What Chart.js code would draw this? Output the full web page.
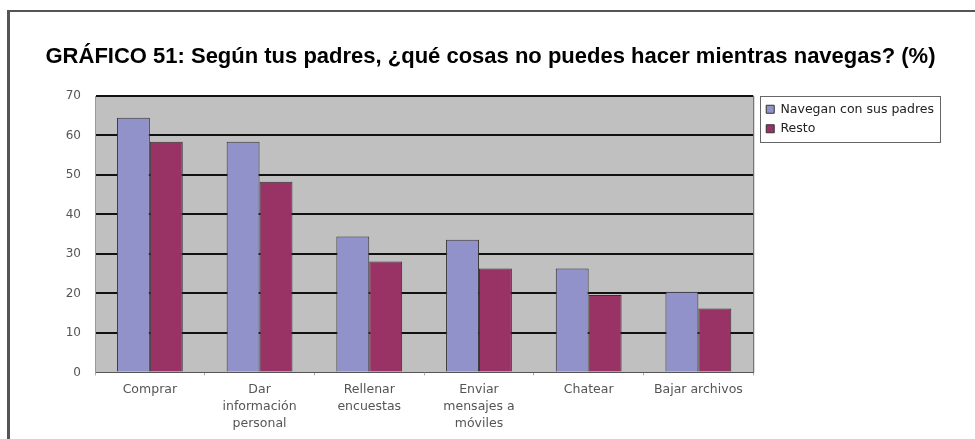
<!DOCTYPE html>
<html>
<head>
<meta charset="utf-8">
<script src="https://cdn.jsdelivr.net/npm/chart.js@4.4.0/dist/chart.umd.min.js"></script>
<style>
  html, body { margin: 0; padding: 0; background: #fff; }
  #wrap { position: relative; width: 975px; height: 439px; overflow: hidden; }
  #frame { position: absolute; left: 7px; top: 10px; width: 980px; height: 440px;
           border-top: 2px solid #555; border-left: 3px solid #555; }
  #chartCanvas { position: absolute; left: 0; top: 0; }
</style>
</head>
<body>
<div id="wrap">
  <div id="frame"></div>
  <canvas id="chartCanvas" width="975" height="439"></canvas>
</div>
<script>
(function() {

  var titleText = 'GRÁFICO 51: Según tus padres, ¿qué cosas no puedes hacer mientras navegas? (%)';
  var categories = [
    'Comprar',
    ['Dar', 'información', 'personal'],
    ['Rellenar', 'encuestas'],
    ['Enviar', 'mensajes a', 'móviles'],
    'Chatear',
    'Bajar archivos'
  ];
  var seriesNames = ['Navegan con sus padres', 'Resto'];
  var conPadres = [64.5, 58.4, 34.4, 33.6, 26.3, 20.4];
  var resto = [58.4, 48.3, 28.1, 26.3, 19.6, 16.2];
  var yTicks = [0, 10, 20, 30, 40, 50, 60, 70];

  var labelFont = 'DejaVu Sans';
  var legendShift = 6;

  // gray plot background, right edge line and the box round the legend
  var plotDecor = {
    id: 'plotDecor',
    afterLayout: function(chart) {
      // move the legend a little away from the plot
      var lg = chart.legend;
      lg.left += legendShift;
      lg.right += legendShift;
    },
    beforeDraw: function(chart) {
      var a = chart.chartArea;
      var ctx = chart.ctx;
      ctx.save();
      ctx.fillStyle = '#c0c0c0';
      ctx.fillRect(a.left, a.top, a.right - a.left, a.bottom - a.top);
      ctx.restore();
    },
    afterDraw: function(chart) {
      var a = chart.chartArea;
      var ctx = chart.ctx;
      ctx.save();
      ctx.strokeStyle = '#555';
      ctx.lineWidth = 1;
      ctx.beginPath();
      ctx.moveTo(a.right + 0.5, a.top);
      ctx.lineTo(a.right + 0.5, a.bottom);
      ctx.stroke();
      var boxes = chart.legend.legendHitBoxes;
      if (boxes && boxes.length) {
        var l = Infinity, t = Infinity, r = -Infinity, b = -Infinity;
        boxes.forEach(function(h) {
          l = Math.min(l, h.left); t = Math.min(t, h.top);
          r = Math.max(r, h.left + h.width); b = Math.max(b, h.top + h.height);
        });
        ctx.strokeStyle = '#666';
        ctx.strokeRect(Math.round(l - 6) + 0.5, Math.round(t - 7) + 0.5, Math.round(r - l + 12), Math.round(b - t + 14));
      }
      ctx.restore();
    }
  };

  var ctx = document.getElementById('chartCanvas');
  new Chart(ctx, {
    type: 'bar',
    data: {
      labels: categories,
      datasets: [{
        label: seriesNames[0],
        data: conPadres,
        backgroundColor: '#9292cb',
        borderColor: '#333',
        borderWidth: 1,
        borderSkipped: 'bottom'
      }, {
        label: seriesNames[1],
        data: resto,
        backgroundColor: '#993366',
        borderColor: '#333',
        borderWidth: 1,
        borderSkipped: 'bottom'
      }]
    },
    options: {
      responsive: false,
      animation: false,
      layout: { padding: { left: 43, right: 37, top: 0, bottom: 1 } },
      plugins: {
        title: {
          display: true,
          text: titleText,
          color: '#000',
          font: { family: 'Liberation Sans', size: 22, weight: 'bold', lineHeight: 1.2 },
          padding: { top: 44, bottom: 25.6 }
        },
        legend: {
          position: 'right',
          align: 'start',
          fullSize: false,
          labels: {
            color: '#222',
            boxWidth: 8,
            boxHeight: 8,
            padding: 7,
            font: { family: labelFont, size: 12.5 }
          }
        },
        tooltip: { enabled: false }
      },
      datasets: { bar: { categoryPercentage: 0.6, barPercentage: 1.0 } },
      scales: {
        x: {
          grid: { display: true, drawOnChartArea: false, drawTicks: true, tickLength: 3, color: '#aaa', offset: true },
          border: { display: true, color: '#555', width: 1 },
          ticks: {
            color: '#555',
            padding: 6,
            maxRotation: 0,
            autoSkip: false,
            font: { family: labelFont, size: 12.5, lineHeight: 1.35 }
          }
        },
        y: {
          min: 0,
          max: 70,
          afterBuildTicks: function(axis) {
            axis.ticks = yTicks.map(function(v) { return { value: v }; });
          },
          afterFit: function(axis) { axis.width = 52; },
          grid: {
            drawTicks: false,
            lineWidth: 2,
            color: function(c) { return c.tick && c.tick.value === 0 ? 'rgba(0,0,0,0)' : '#111'; }
          },
          border: { display: true, color: '#999', width: 1 },
          ticks: {
            color: '#555',
            padding: 14,
            font: { family: labelFont, size: 12 }
          }
        }
      }
    },
    plugins: [plotDecor]
  });

})();
</script>
</body>
</html>
